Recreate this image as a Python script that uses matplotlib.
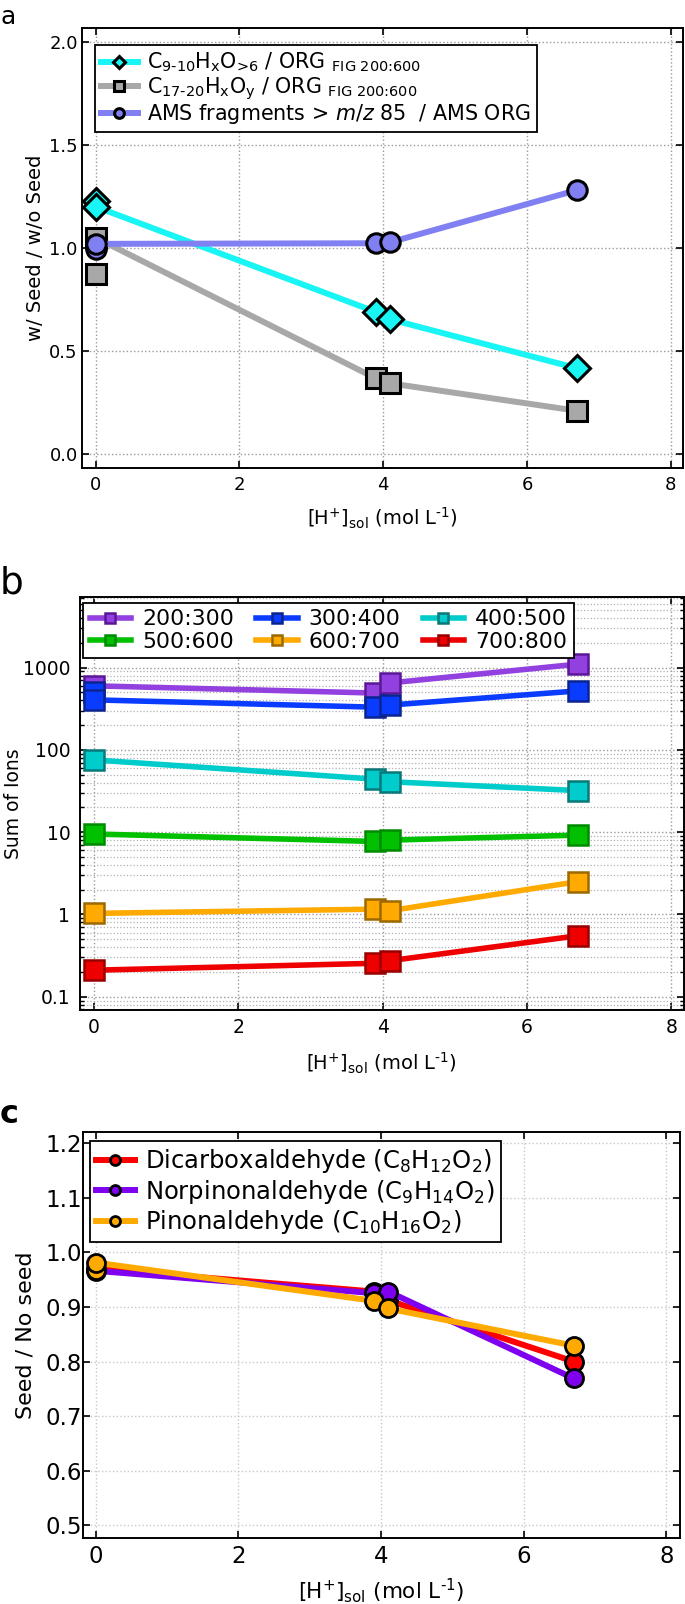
import numpy as np
import matplotlib
matplotlib.use("Agg")
import matplotlib.pyplot as plt
from matplotlib.ticker import FixedLocator, FixedFormatter, LogLocator, NullFormatter

# ---------------- data ----------------
h_sol = [0.0, 3.9, 4.1, 6.7]          # [H+]sol (mol L-1)
h_rep = [0.0]                          # replicate at 0

# panel a
a_labels = [r'C$_{\text{9-10}}$H$_{\text{x}}$O$_{\text{>6}}$ / ORG $_{\text{FIG 200:600}}$',
            r'C$_{\text{17-20}}$H$_{\text{x}}$O$_{\text{y}}$ / ORG $_{\text{FIG 200:600}}$',
            r'AMS fragments > $m/z$ 85  / AMS ORG']
a_c9 = [1.20, 0.69, 0.654, 0.417]
a_c9_rep = [1.23]
a_c17 = [1.05, 0.368, 0.344, 0.211]
a_c17_rep = [0.875]
a_ams = [1.02, 1.023, 1.028, 1.281]
a_ams_rep = [0.995]

# panel b
b_labels = ['200:300', '300:400', '400:500', '500:600', '600:700', '700:800']
b_200 = [600, 490, 650, 1100]
b_300 = [405, 330, 350, 520]
b_300_rep = [500]
b_400 = [75.5, 44, 41, 32]
b_500 = [9.5, 7.7, 8.0, 9.2]
b_600 = [1.03, 1.16, 1.11, 2.5]
b_700 = [0.21, 0.255, 0.274, 0.55]
b_yticks = [0.1, 1, 10, 100, 1000]
b_yticklabels = ['0.1', '1', '10', '100', '1000']

# panel c
c_labels = [r'Dicarboxaldehyde (C$_{8}$H$_{12}$O$_{2}$)',
            r'Norpinonaldehyde (C$_{9}$H$_{14}$O$_{2}$)',
            r'Pinonaldehyde (C$_{10}$H$_{16}$O$_{2}$)']
c_dicarb = [0.970, 0.928, 0.912, 0.800]
c_norpin = [0.966, 0.925, 0.928, 0.769]
c_pinon = [0.981, 0.911, 0.897, 0.829]
c_pinon_rep = [0.968]

xlabel = r'[H$^{\text{+}}$]$_{\text{sol}}$ (mol L$^{\text{-1}}$)'

# ---------------- style ----------------
plt.rcParams['font.family'] = ['DejaVu Sans']
plt.rcParams['mathtext.fontset'] = 'dejavusans'
plt.rcParams['xtick.direction'] = 'in'
plt.rcParams['ytick.direction'] = 'in'
plt.rcParams['xtick.top'] = True
plt.rcParams['ytick.right'] = True
plt.rcParams['axes.linewidth'] = 1.4

W, H = 685, 1604
fig = plt.figure(figsize=(W / 100, H / 100), dpi=100)


def axes_px(left, right, top, bottom):
    return fig.add_axes([left / W, 1 - bottom / H, (right - left) / W, (bottom - top) / H])


def style_ticks(ax, size, ypad, xpad):
    ax.tick_params(which='major', length=5, width=1.2, labelsize=size)
    ax.tick_params(axis='y', which='major', pad=ypad)
    ax.tick_params(axis='x', which='major', pad=xpad)


# ---------------- panel a ----------------
axa = axes_px(82, 683, 28, 468)
cyan, gray, lav = '#19f5f5', '#a8a8a8', '#8080f2'
lw_a = 4.3
axa.plot(h_rep, a_c17_rep, ls='none', marker='s', ms=14, mfc=gray, mec='black', mew=2.2, zorder=3)
axa.plot(h_sol, a_c17, color=gray, lw=lw_a, marker='s', ms=14, mfc=gray, mec='black', mew=2.2,
         label=a_labels[1], zorder=3)
axa.plot(h_rep, a_c9_rep, ls='none', marker='D', ms=13, mfc=cyan, mec='black', mew=2.2, zorder=4)
axa.plot(h_sol, a_c9, color=cyan, lw=lw_a, marker='D', ms=13, mfc=cyan, mec='black', mew=2.2,
         label=a_labels[0], zorder=4)
axa.plot(h_rep, a_ams_rep, ls='none', marker='o', ms=14, mfc=lav, mec='black', mew=2.2, zorder=5)
axa.plot(h_sol, a_ams, color=lav, lw=lw_a, marker='o', ms=14, mfc=lav, mec='black', mew=2.2,
         label=a_labels[2], zorder=5)
axa.set_xlim(-0.19, 8.17)
axa.set_ylim(-0.066, 2.066)
axa.set_xticks([0, 2, 4, 6, 8])
axa.set_yticks([0, 0.5, 1.0, 1.5, 2.0])
axa.set_yticklabels(['0.0', '0.5', '1.0', '1.5', '2.0'])
axa.grid(True, ls=':', color='#999999', lw=1.0)
style_ticks(axa, 13, 3, 6)
axa.set_ylabel('w/ Seed / w/o Seed', fontsize=14)
axa.yaxis.set_label_coords(-0.062, 0.5)
axa.set_xlabel(xlabel, fontsize=14)
axa.xaxis.set_label_coords(0.5, -0.085)
h, l = axa.get_legend_handles_labels()
order = [1, 0, 2]
leg = axa.legend([h[i] for i in order], [l[i] for i in order], loc='upper left',
                 bbox_to_anchor=(0.0216, 0.9614), borderaxespad=0, fontsize=14.9,
                 fancybox=False, edgecolor='black', framealpha=1, markerscale=0.5,
                 handlelength=1.8, handletextpad=0.45, labelspacing=0.02, borderpad=0.28)
leg.get_frame().set_linewidth(1.3)

# ---------------- panel b ----------------
axb = axes_px(80, 683.7, 597, 1010)
b_series = [b_200, b_300, b_400, b_500, b_600, b_700]
b_fill = ['#9340e0', '#0a3cff', '#00cccc', '#00c000', '#ffaa00', '#ee0000']
b_edge = ['#5a1896', '#0a2490', '#087878', '#008a00', '#9c6800', '#980000']
lw_b = 4.0
for k, (ys, fc, ec, lab) in enumerate(zip(b_series, b_fill, b_edge, b_labels)):
    if k == 1:
        axb.plot(h_rep, b_300_rep, ls='none', marker='s', ms=14, mfc=fc, mec=ec, mew=1.8, zorder=3 + k)
    axb.plot(h_sol, ys, color=fc, lw=lw_b, marker='s', ms=14, mfc=fc, mec=ec, mew=1.8,
             label=lab, zorder=3 + k)
axb.set_yscale('log')
axb.set_xlim(-0.19, 8.17)
axb.set_ylim(0.069, 7200)
axb.set_xticks([0, 2, 4, 6, 8])
axb.yaxis.set_major_locator(FixedLocator(b_yticks))
axb.yaxis.set_major_formatter(FixedFormatter(b_yticklabels))
axb.yaxis.set_minor_locator(LogLocator(base=10, subs=np.arange(2, 10)))
axb.yaxis.set_minor_formatter(NullFormatter())
axb.tick_params(axis='y', which='minor', length=3, width=1.0)
axb.grid(True, which='major', ls=':', color='#999999', lw=1.0)
axb.grid(True, which='minor', axis='y', ls=':', color='#b0b0b0', lw=0.9)
style_ticks(axb, 13.5, 7, 6)
axb.set_ylabel('Sum of Ions', fontsize=13.5)
axb.yaxis.set_label_coords(-0.095, 0.5)
axb.set_xlabel(xlabel, fontsize=14)
axb.xaxis.set_label_coords(0.5, -0.098)
hb, lb = axb.get_legend_handles_labels()
border = [0, 3, 1, 4, 2, 5]
legb = axb.legend([hb[i] for i in border], [lb[i] for i in border], loc='upper left',
                  bbox_to_anchor=(0.005, 0.986), borderaxespad=0, ncol=3,
                  fontsize=15.8, fancybox=False, edgecolor='black', framealpha=1, markerscale=0.5,
                  handlelength=1.9, handletextpad=0.5, labelspacing=0.1, columnspacing=1.0,
                  borderpad=0.3)
legb.get_frame().set_linewidth(1.3)

# ---------------- panel c ----------------
axc = axes_px(83, 680, 1132, 1538)
c_series = [c_dicarb, c_norpin, c_pinon]
c_cols = ['#ff0000', '#7f00ee', '#ffaa00']
lw_c = 4.3
for k, (ys, col, lab) in enumerate(zip(c_series, c_cols, c_labels)):
    if k == 2:
        axc.plot(h_rep, c_pinon_rep, ls='none', marker='o', ms=13, mfc=col, mec='black', mew=2.0,
                 zorder=3 + k)
    axc.plot(h_sol, ys, color=col, lw=lw_c, marker='o', ms=13, mfc=col, mec='black', mew=2.0,
             label=lab, zorder=3 + k)
axc.set_xlim(-0.18, 8.19)
axc.set_ylim(0.477, 1.22)
axc.set_xticks([0, 2, 4, 6, 8])
axc.set_yticks([0.5, 0.6, 0.7, 0.8, 0.9, 1.0, 1.1, 1.2])
axc.set_yticklabels(['0.5', '0.6', '0.7', '0.8', '0.9', '1.0', '1.1', '1.2'])
axc.grid(True, ls=':', color='#c8c8c8', lw=1.0)
style_ticks(axc, 16.5, 1, 5)
axc.set_ylabel('Seed / No seed', fontsize=16)
axc.yaxis.set_label_coords(-0.08, 0.5)
axc.set_xlabel(xlabel, fontsize=15.5)
axc.xaxis.set_label_coords(0.5, -0.095)
legc = axc.legend(loc='upper left', bbox_to_anchor=(0.011, 0.977), borderaxespad=0,
                  fontsize=17.5, fancybox=False, edgecolor='black', framealpha=1, markerscale=0.55,
                  handlelength=1.6, handletextpad=0.45, labelspacing=0.1, borderpad=0.25)
legc.get_frame().set_linewidth(1.3)

# panel letters
fig.text(0.0, 1 - 23.5 / H, 'a', fontsize=18, va='baseline', ha='left')
fig.text(0.0, 1 - 593 / H, 'b', fontsize=27, va='baseline', ha='left')
fig.text(0.0, 1 - 1123 / H, 'c', fontsize=23, va='baseline', ha='left', fontweight='bold')

fig.savefig('out.png', dpi=100)
